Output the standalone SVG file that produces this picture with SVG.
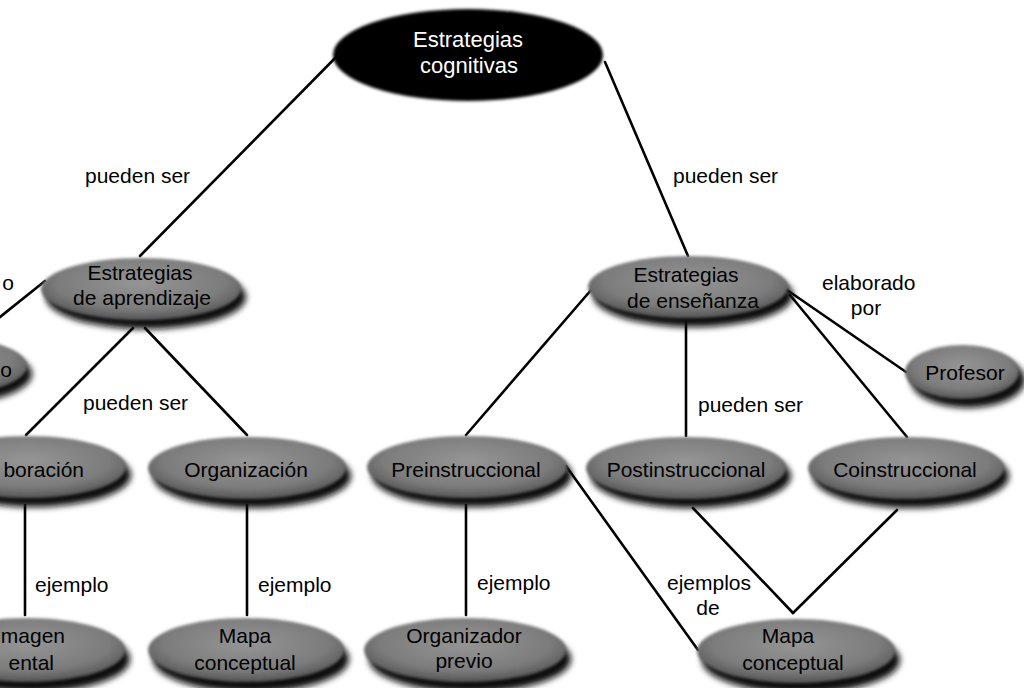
<svg xmlns="http://www.w3.org/2000/svg" width="1024" height="688" viewBox="0 0 1024 688">
  <style>
    .lbl { font-family: "Liberation Sans", Arial, sans-serif; font-size: 21px; fill: #000; }
    .ntx { font-family: "Liberation Sans", Arial, sans-serif; font-size: 21px; fill: #000; text-anchor: middle; }
    .top { font-family: "Liberation Sans", Arial, sans-serif; font-size: 22px; fill: #fff; text-anchor: middle; }
    .edge { stroke: #000; stroke-width: 2.6; fill: none; stroke-linecap: round; }
    .shadow { fill: #111; filter: url(#soft); }
    .body { fill: url(#gray); filter: url(#soft1); }
  </style>
  <defs>
    <filter id="soft" x="-20%" y="-30%" width="140%" height="160%">
      <feGaussianBlur stdDeviation="3"/>
    </filter>
    <filter id="soft1" x="-20%" y="-30%" width="140%" height="160%">
      <feGaussianBlur stdDeviation="1.5"/>
    </filter>
    <radialGradient id="gray" cx="50%" cy="40%" r="60%">
      <stop offset="0" stop-color="#959595"/>
      <stop offset="0.7" stop-color="#7c7c7c"/>
      <stop offset="1" stop-color="#555"/>
    </radialGradient>
  </defs>

  <rect width="1024" height="688" fill="#fff"/>

  <!-- connectors -->
  <g id="connectors">
    <line class="edge" x1="345" y1="48" x2="140" y2="256"/>
    <line class="edge" x1="605" y1="62" x2="688" y2="256"/>
    <line class="edge" x1="45" y1="281" x2="-10" y2="325"/>
    <line class="edge" x1="133" y1="328" x2="26" y2="435"/>
    <line class="edge" x1="145" y1="328" x2="247" y2="435"/>
    <line class="edge" x1="25" y1="505" x2="25" y2="615"/>
    <line class="edge" x1="247" y1="505" x2="247" y2="615"/>
    <line class="edge" x1="598" y1="282" x2="466" y2="435"/>
    <line class="edge" x1="686" y1="322" x2="686" y2="436"/>
    <line class="edge" x1="790" y1="295" x2="907" y2="437"/>
    <line class="edge" x1="787" y1="290" x2="906" y2="372"/>
    <line class="edge" x1="466" y1="505" x2="466" y2="615"/>
    <line class="edge" x1="566" y1="466" x2="698" y2="650"/>
    <line class="edge" x1="693" y1="508" x2="793" y2="613"/>
    <line class="edge" x1="897" y1="510" x2="793" y2="613"/>
  </g>

  <!-- connector labels -->
  <g id="labels">
    <text class="lbl" x="85" y="183">pueden ser</text>
    <text class="lbl" x="673" y="183">pueden ser</text>
    <text class="lbl" x="14" y="290" text-anchor="end">o</text>
    <text class="lbl" x="83" y="410">pueden ser</text>
    <text class="lbl" x="698" y="412">pueden ser</text>
    <text class="lbl" x="822" y="290">elaborado</text>
    <text class="lbl" x="866" y="315" text-anchor="middle">por</text>
    <text class="lbl" x="35" y="592">ejemplo</text>
    <text class="lbl" x="258" y="592">ejemplo</text>
    <text class="lbl" x="477" y="590">ejemplo</text>
    <text class="lbl" x="709" y="590" text-anchor="middle">ejemplos</text>
    <text class="lbl" x="708" y="615" text-anchor="middle">de</text>
  </g>

  <g id="estrategias-cognitivas">
    <ellipse cx="468" cy="55" rx="135" ry="46" fill="#000" filter="url(#soft1)"/>
    <text class="top" x="468" y="47">Estrategias</text>
    <text class="top" x="469" y="73">cognitivas</text>
  </g>

  <g id="estrategias-aprendizaje">
    <ellipse class="shadow" cx="146" cy="297" rx="100" ry="32"/>
    <ellipse class="body" cx="141" cy="289" rx="100" ry="31"/>
    <text class="ntx" x="140" y="280">Estrategias</text>
    <text class="ntx" x="142" y="305">de aprendizaje</text>
  </g>

  <!-- node at the left margin, only its last letter in frame -->
  <g id="nodo-izquierdo">
    <ellipse class="shadow" cx="-60" cy="374" rx="92" ry="31"/>
    <ellipse class="body" cx="-65" cy="366" rx="92" ry="30"/>
    <text class="lbl" x="12" y="377" text-anchor="end">o</text>
  </g>

  <g id="elaboracion">
    <ellipse class="shadow" cx="33" cy="475" rx="98" ry="32"/>
    <ellipse class="body" cx="28" cy="467" rx="98" ry="31"/>
    <text class="lbl" x="84" y="477" text-anchor="end">boración</text>
  </g>

  <g id="organizacion">
    <ellipse class="shadow" cx="252" cy="476" rx="99" ry="32"/>
    <ellipse class="body" cx="247" cy="468" rx="99" ry="31"/>
    <text class="ntx" x="246" y="477">Organización</text>
  </g>

  <g id="imagen-mental">
    <ellipse class="shadow" cx="32" cy="659" rx="98" ry="33"/>
    <ellipse class="body" cx="27" cy="650" rx="98" ry="32"/>
    <text class="lbl" x="65" y="643" text-anchor="end">magen</text>
    <text class="lbl" x="54" y="670" text-anchor="end">ental</text>
  </g>

  <g id="mapa-conceptual-1">
    <ellipse class="shadow" cx="251" cy="659" rx="98" ry="33"/>
    <ellipse class="body" cx="246" cy="650" rx="98" ry="32"/>
    <text class="ntx" x="245" y="643">Mapa</text>
    <text class="ntx" x="245" y="670">conceptual</text>
  </g>

  <g id="estrategias-ensenanza">
    <ellipse class="shadow" cx="693" cy="295" rx="100" ry="32"/>
    <ellipse class="body" cx="688" cy="287" rx="100" ry="31"/>
    <text class="ntx" x="686" y="282">Estrategias</text>
    <text class="ntx" x="693" y="308">de enseñanza</text>
  </g>

  <g id="profesor">
    <ellipse class="shadow" cx="968" cy="380" rx="57" ry="28"/>
    <ellipse class="body" cx="962" cy="372" rx="57" ry="27"/>
    <text class="ntx" x="965" y="380">Profesor</text>
  </g>

  <g id="preinstruccional">
    <ellipse class="shadow" cx="472" cy="475" rx="100" ry="32"/>
    <ellipse class="body" cx="467" cy="467" rx="100" ry="31"/>
    <text class="ntx" x="466" y="477">Preinstruccional</text>
  </g>

  <g id="postinstruccional">
    <ellipse class="shadow" cx="691" cy="476" rx="100" ry="32"/>
    <ellipse class="body" cx="686" cy="468" rx="100" ry="31"/>
    <text class="ntx" x="686" y="477">Postinstruccional</text>
  </g>

  <g id="coinstruccional">
    <ellipse class="shadow" cx="911" cy="476" rx="98" ry="32"/>
    <ellipse class="body" cx="906" cy="468" rx="98" ry="31"/>
    <text class="ntx" x="905" y="477">Coinstruccional</text>
  </g>

  <g id="organizador-previo">
    <ellipse class="shadow" cx="470" cy="659" rx="101" ry="33"/>
    <ellipse class="body" cx="465" cy="650" rx="101" ry="32"/>
    <text class="ntx" x="464" y="643">Organizador</text>
    <text class="ntx" x="464" y="668">previo</text>
  </g>

  <g id="mapa-conceptual-2">
    <ellipse class="shadow" cx="801" cy="660" rx="99" ry="33"/>
    <ellipse class="body" cx="796" cy="651" rx="99" ry="32"/>
    <text class="ntx" x="788" y="643">Mapa</text>
    <text class="ntx" x="793" y="670">conceptual</text>
  </g>
</svg>
